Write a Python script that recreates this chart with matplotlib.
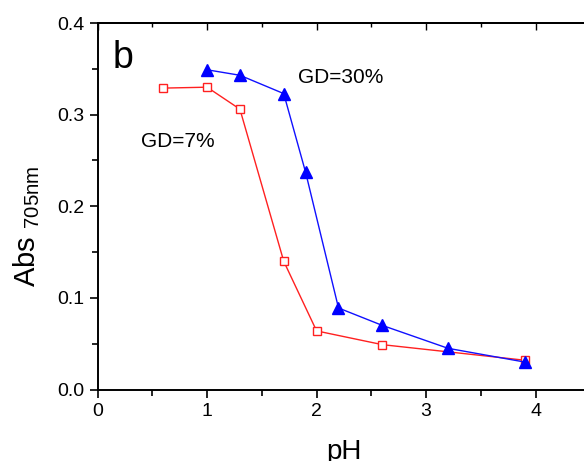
import matplotlib
matplotlib.use("Agg")
import matplotlib.pyplot as plt
from matplotlib.ticker import MultipleLocator

plt.rcParams["font.family"] = "Liberation Sans"
plt.rcParams["mathtext.fontset"] = "custom"
plt.rcParams["mathtext.rm"] = "Liberation Sans"

# GD = 7 %
ph_7 = [0.6, 1.0, 1.3, 1.7, 2.0, 2.6, 3.9]
abs_7 = [0.329, 0.330, 0.306, 0.140, 0.064, 0.049, 0.032]

# GD = 30 %
ph_30 = [1.0, 1.3, 1.7, 1.9, 2.2, 2.6, 3.2, 3.9]
abs_30 = [0.349, 0.343, 0.323, 0.237, 0.089, 0.070, 0.045, 0.030]

fig = plt.figure(figsize=(5.84, 4.61), dpi=100)
ax = fig.add_axes([0.167, 0.155, 0.844, 0.795])

ax.plot(ph_7, abs_7, color="#ff2020", lw=1.0, marker="s", ms=6,
        mfc="white", mec="#ff2020", mew=1.0, zorder=3)
ax.plot(ph_30, abs_30, color="#1010ff", lw=1.0, marker="^", ms=8,
        mfc="#0000ff", mec="#0000ff", zorder=4)

ax.set_xlim(0, 4.5)
ax.set_ylim(0, 0.4)
ax.xaxis.set_major_locator(MultipleLocator(1))
ax.xaxis.set_minor_locator(MultipleLocator(0.5))
ax.yaxis.set_major_locator(MultipleLocator(0.1))
ax.yaxis.set_minor_locator(MultipleLocator(0.05))
ax.yaxis.set_major_formatter(matplotlib.ticker.FormatStrFormatter("%.1f"))

ax.tick_params(which="both", direction="out", labelsize=14, width=1.2,
               top=False, right=False)
ax.tick_params(which="major", length=6)
ax.tick_params(which="minor", length=4)
for s in ax.spines.values():
    s.set_linewidth(1.4)

# inward ticks on the top spine
secx = ax.secondary_xaxis("top")
secx.xaxis.set_major_locator(MultipleLocator(1))
secx.xaxis.set_minor_locator(MultipleLocator(0.5))
secx.tick_params(which="both", direction="in", labeltop=False, width=1.0)
secx.tick_params(which="major", length=5)
secx.tick_params(which="minor", length=3)
secx.spines["top"].set_linewidth(1.4)

ax.set_xlabel("pH", fontsize=20, labelpad=14)
ax.set_ylabel(r"Abs $_{\mathregular{705nm}}$", fontsize=21)
ax.yaxis.set_label_coords(-0.113, 0.446)

ax.text(0.03, 0.955, "b", transform=ax.transAxes, fontsize=27, va="top")
ax.text(1.83, 0.3346, "GD=30%", fontsize=15)
ax.text(0.397, 0.2647, "GD=7%", fontsize=15)

fig.savefig("out.png", dpi=100)
